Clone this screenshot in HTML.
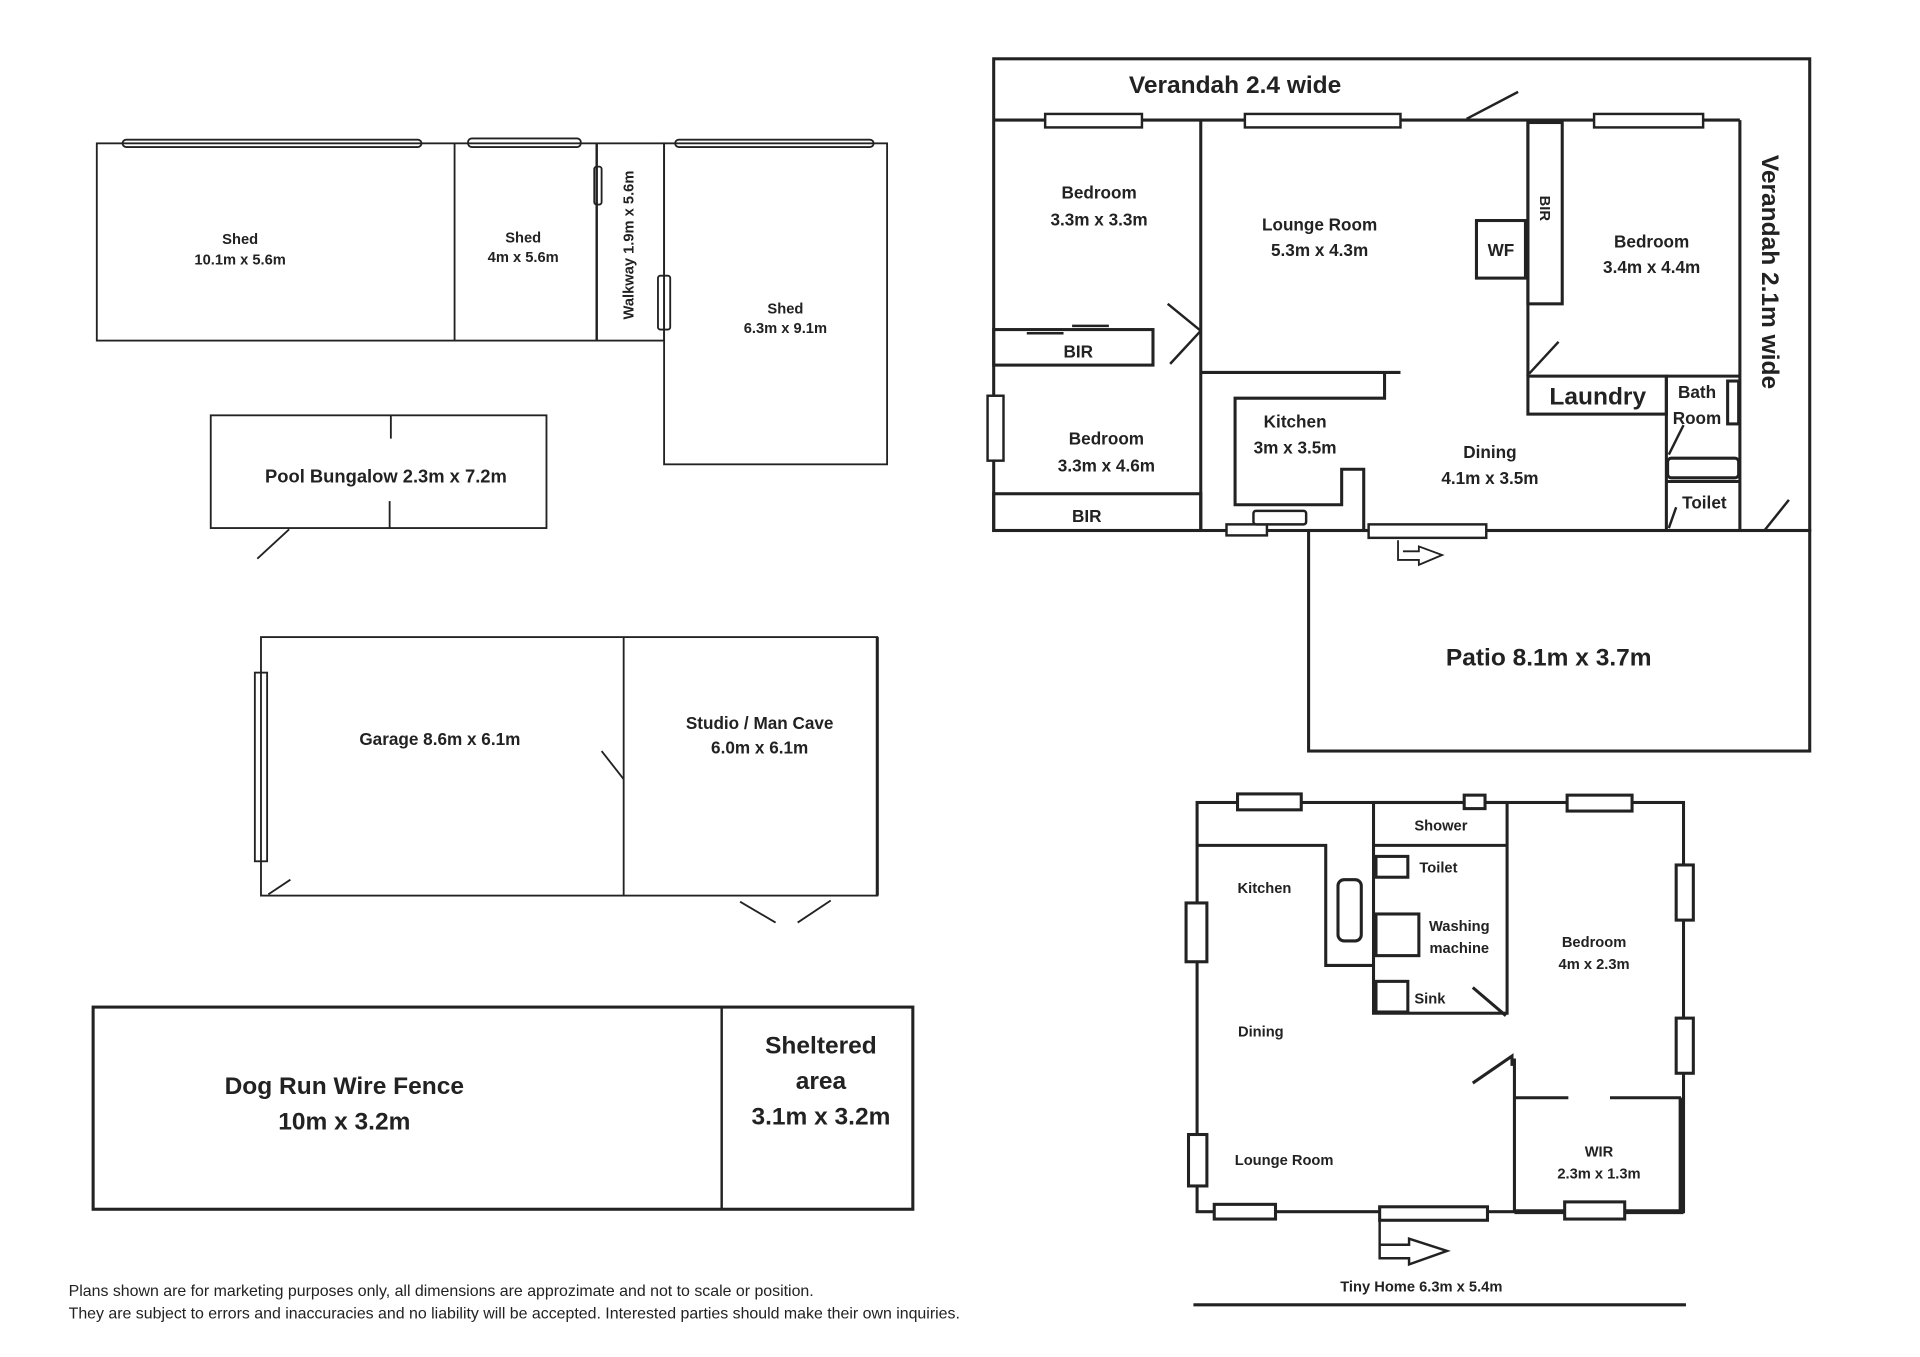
<!DOCTYPE html>
<html><head><meta charset="utf-8"><style>
html,body{margin:0;padding:0;background:#fff;}
svg{display:block;}
text{font-family:"Liberation Sans",sans-serif;font-weight:bold;fill:#222;text-anchor:middle;}
.s{font-size:12px;}
.m{font-size:14px;}
.l{font-size:20px;}
.n{font-weight:normal;text-anchor:start;font-size:13px;}
</style></head><body>
<svg width="1920" height="1357" viewBox="0 0 1567 1107.6" preserveAspectRatio="none" xmlns="http://www.w3.org/2000/svg">
<g fill="none" stroke="#222" stroke-width="1.5">
<!-- Sheds -->
<rect x="79" y="117" width="463" height="161"/>
<line x1="371" y1="117" x2="371" y2="278"/>
<line x1="487" y1="117" x2="487" y2="278" stroke-width="2"/>
<rect x="542" y="117" width="182" height="262"/>
<rect x="100" y="114" width="244" height="6" rx="3"/>
<rect x="382" y="113" width="92" height="7" rx="3"/>
<rect x="551" y="114" width="162" height="6" rx="3"/>
<rect x="485" y="136" width="6" height="31" rx="2"/>
<rect x="537" y="225" width="10" height="44" rx="2"/>
<!-- Pool bungalow -->
<rect x="172" y="339" width="274" height="92"/>
<line x1="319" y1="339" x2="319" y2="358"/>
<line x1="318" y1="409" x2="318" y2="431"/>
<line x1="210" y1="456" x2="236" y2="432"/>
<!-- Garage -->
<rect x="213" y="520" width="503" height="211"/>
<line x1="716" y1="520" x2="716" y2="731" stroke-width="2.5"/>
<line x1="509" y1="520" x2="509" y2="731"/>
<rect x="208" y="549" width="10" height="154"/>
<line x1="491" y1="613" x2="509" y2="636"/>
<line x1="219" y1="730" x2="237" y2="718"/>
<line x1="604" y1="736" x2="633" y2="753"/>
<line x1="651" y1="753" x2="678" y2="735"/>
<!-- Dog run -->
<rect x="76" y="822" width="669" height="165" stroke-width="2.5"/>
<line x1="589" y1="822" x2="589" y2="987" stroke-width="2"/>
<!-- Main house -->
<g stroke-width="2.5">
<rect x="811" y="48" width="666" height="385"/>
<rect x="1068" y="433" width="409" height="180"/>
<line x1="811" y1="98" x2="1420" y2="98"/>
<line x1="1420" y1="98" x2="1420" y2="433"/>
<line x1="980" y1="98" x2="980" y2="433"/>
<line x1="980" y1="304" x2="1143" y2="304"/>
<polyline points="1130,304 1130,325 1008,325 1008,412 1095,412 1095,383 1113,383 1113,433"/>
<line x1="1247" y1="98" x2="1247" y2="307"/>
<rect x="1247" y="100" width="28" height="148"/>
<rect x="1205" y="180" width="40" height="47"/>
<rect x="1247" y="307" width="113" height="31"/>
<line x1="1360" y1="307" x2="1360" y2="433"/>
<line x1="1360" y1="307" x2="1420" y2="307"/>
<rect x="1361" y="374" width="58" height="16" rx="3"/>
<line x1="1360" y1="393" x2="1420" y2="393"/>
<rect x="1410" y="311" width="9" height="35"/>
<rect x="811" y="269" width="130" height="29"/>
<rect x="811" y="403" width="169" height="30"/>
</g>
<line x1="838" y1="272" x2="868" y2="272" stroke-width="2"/>
<line x1="875" y1="266" x2="905" y2="266" stroke-width="2"/>
<line x1="953" y1="248" x2="980" y2="270" stroke-width="2"/>
<line x1="980" y1="270" x2="955" y2="297" stroke-width="2"/>
<line x1="1197" y1="97" x2="1239" y2="75" stroke-width="2"/>
<line x1="1248" y1="305" x2="1272" y2="279" stroke-width="2"/>
<line x1="1362" y1="371" x2="1374" y2="347" stroke-width="2"/>
<line x1="1362" y1="431" x2="1368" y2="414" stroke-width="2"/>
<line x1="1440" y1="433" x2="1460" y2="408" stroke-width="2"/>
<g fill="#fff" stroke-width="2">
<rect x="853" y="93" width="79" height="11"/>
<rect x="1016" y="93" width="127" height="11"/>
<rect x="1301" y="93" width="89" height="11"/>
<rect x="806" y="323" width="13" height="53"/>
<rect x="1001" y="428" width="33" height="9"/>
<rect x="1023" y="417" width="43" height="11" rx="2"/>
<rect x="1117" y="428" width="96" height="11"/>
</g>
<polyline points="1141,441 1141,457 1158,457 1158,461 1177,453 1158,446 1158,450 1145,450" stroke-width="1.5"/>
<!-- Tiny home -->
<g stroke-width="2.5">
<rect x="977" y="655" width="397" height="334"/>
<rect x="1121" y="655" width="109" height="172"/>
<line x1="1121" y1="690" x2="1230" y2="690"/>
<polyline points="977,690 1082,690 1082,788 1121,788"/>
<rect x="1092" y="718" width="19" height="50" rx="5"/>
<rect x="1123" y="699" width="26" height="17"/>
<rect x="1123" y="746" width="35" height="34"/>
<rect x="1123" y="801" width="26" height="25"/>
<line x1="1202" y1="806" x2="1229" y2="829"/>
<line x1="1236" y1="864" x2="1236" y2="989"/>
<line x1="1236" y1="896" x2="1280" y2="896"/>
<line x1="1314" y1="896" x2="1372" y2="896"/>
<line x1="1372" y1="896" x2="1372" y2="989" stroke-width="4"/>
<line x1="1236" y1="989" x2="1374" y2="989" stroke-width="4"/>
<polyline points="1202,884 1234,862 1234,870"/>
<line x1="974" y1="1065" x2="1376" y2="1065"/>
</g>
<g fill="#fff" stroke-width="2.5">
<rect x="1010" y="648" width="52" height="13"/>
<rect x="1195" y="649" width="17" height="11"/>
<rect x="1279" y="649" width="53" height="13"/>
<rect x="1368" y="706" width="14" height="45"/>
<rect x="1368" y="831" width="14" height="45"/>
<rect x="968" y="737" width="17" height="48"/>
<rect x="970" y="926" width="15" height="42"/>
<rect x="991" y="983" width="50" height="12"/>
<rect x="1126" y="985" width="88" height="11"/>
<rect x="1277" y="981" width="49" height="14"/>
</g>
<polyline points="1126,995 1126,1027 1150,1027 1150,1032 1181,1021 1150,1011 1150,1016 1126,1016" stroke-width="2"/>
</g>
<!-- Texts -->
<text class="s" x="196" y="199">Shed</text>
<text class="s" x="196" y="216">10.1m x 5.6m</text>
<text class="s" x="427" y="198">Shed</text>
<text class="s" x="427" y="214">4m x 5.6m</text>
<text class="s" x="0" y="0" transform="translate(517,200) rotate(-90)">Walkway 1.9m x 5.6m</text>
<text class="s" x="641" y="256">Shed</text>
<text class="s" x="641" y="272">6.3m x 9.1m</text>
<text class="m" x="315" y="394" style="font-size:15px">Pool Bungalow 2.3m x 7.2m</text>
<text class="m" x="359" y="608">Garage 8.6m x 6.1m</text>
<text class="m" x="620" y="595">Studio / Man Cave</text>
<text class="m" x="620" y="615">6.0m x 6.1m</text>
<text class="l" x="281" y="893">Dog Run Wire Fence</text>
<text class="l" x="281" y="922">10m x 3.2m</text>
<text class="l" x="670" y="860">Sheltered</text>
<text class="l" x="670" y="889">area</text>
<text class="l" x="670" y="918">3.1m x 3.2m</text>
<text class="n" x="56" y="1058">Plans shown are for marketing purposes only, all dimensions are approzimate and not to scale or position.</text>
<text class="n" x="56" y="1076">They are subject to errors and inaccuracies and no liability will be accepted. Interested parties should make their own inquiries.</text>
<text class="l" x="1008" y="76">Verandah 2.4 wide</text>
<text class="l" x="0" y="0" transform="translate(1438,222) rotate(90)">Verandah 2.1m wide</text>
<text class="m" x="897" y="162">Bedroom</text>
<text class="m" x="897" y="184">3.3m x 3.3m</text>
<text class="m" x="880" y="292">BIR</text>
<text class="m" x="903" y="363">Bedroom</text>
<text class="m" x="903" y="385">3.3m x 4.6m</text>
<text class="m" x="887" y="426">BIR</text>
<text class="m" x="1077" y="188">Lounge Room</text>
<text class="m" x="1077" y="209">5.3m x 4.3m</text>
<text class="m" x="1225" y="209">WF</text>
<text class="s" x="0" y="0" transform="translate(1257,170) rotate(90)">BIR</text>
<text class="m" x="1348" y="202">Bedroom</text>
<text class="m" x="1348" y="223">3.4m x 4.4m</text>
<text class="l" x="1304" y="330">Laundry</text>
<text class="m" x="1385" y="325">Bath</text>
<text class="m" x="1385" y="346">Room</text>
<text class="m" x="1391" y="415">Toilet</text>
<text class="m" x="1057" y="349">Kitchen</text>
<text class="m" x="1057" y="370">3m x 3.5m</text>
<text class="m" x="1216" y="374">Dining</text>
<text class="m" x="1216" y="395">4.1m x 3.5m</text>
<text class="l" x="1264" y="543">Patio 8.1m x 3.7m</text>
<text class="s" x="1176" y="678">Shower</text>
<text class="s" x="1174" y="712">Toilet</text>
<text class="s" x="1191" y="760">Washing</text>
<text class="s" x="1191" y="778">machine</text>
<text class="s" x="1167" y="819">Sink</text>
<text class="s" x="1032" y="729">Kitchen</text>
<text class="s" x="1029" y="846">Dining</text>
<text class="s" x="1048" y="951">Lounge Room</text>
<text class="s" x="1301" y="773">Bedroom</text>
<text class="s" x="1301" y="791">4m x 2.3m</text>
<text class="s" x="1305" y="944">WIR</text>
<text class="s" x="1305" y="962">2.3m x 1.3m</text>
<text class="s" x="1160" y="1054">Tiny Home 6.3m x 5.4m</text>
</svg>
</body></html>
